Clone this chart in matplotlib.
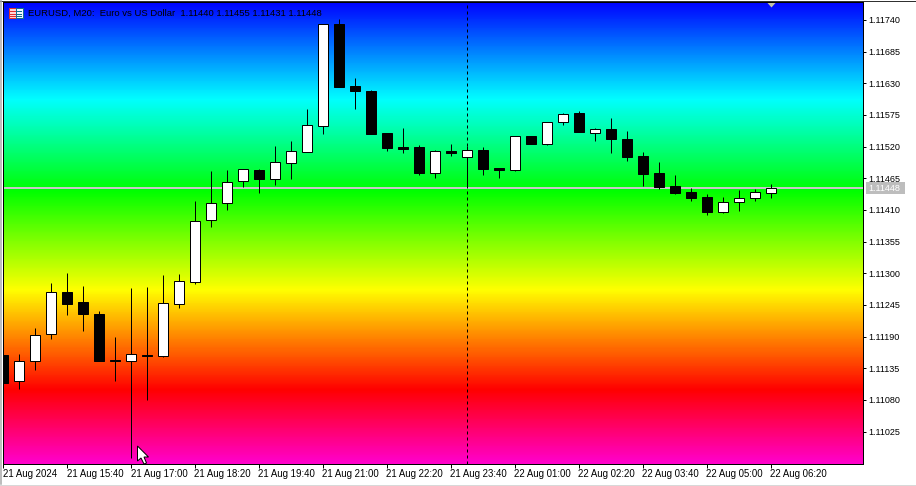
import matplotlib
matplotlib.use("Agg")
import matplotlib.pyplot as plt
import numpy as np
from matplotlib.colors import LinearSegmentedColormap
from matplotlib.patches import Polygon, Rectangle
from matplotlib.transforms import IdentityTransform, ScaledTranslation

# prices in 1e-5 units
opens = [111158,111112,111147,111194,111267,111250,111229,111149,111147,111158,111157,111246,111285,111392,111422,111460,111479,111463,111492,111510,111556,111733,111625,111617,111544,111519,111519,111475,111512,111502,111514,111483,111480,111538,111525,111562,111578,111544,111551,111533,111504,111474,111452,111441,111432,111406,111424,111431,111440]
highs = [111158,111160,111205,111283,111300,111278,111234,111189,111274,111276,111297,111299,111426,111478,111479,111481,111481,111521,111530,111585,111733,111742,111639,111618,111544,111552,111522,111514,111525,111521,111519,111483,111538,111538,111562,111578,111582,111552,111570,111547,111511,111493,111471,111448,111438,111432,111445,111446,111455]
lows = [111110,111099,111132,111186,111228,111200,111148,111112,110979,111080,111155,111240,111282,111381,111410,111450,111440,111454,111464,111510,111542,111624,111586,111542,111513,111509,111471,111466,111504,111450,111471,111466,111478,111525,111523,111558,111545,111530,111509,111495,111452,111446,111438,111426,111401,111405,111408,111426,111431]
closes = [111110,111147,111192,111267,111247,111230,111148,111148,111159,111157,111248,111286,111390,111422,111458,111481,111463,111493,111512,111557,111733,111624,111617,111542,111518,111516,111475,111512,111509,111514,111481,111480,111538,111525,111562,111576,111545,111550,111533,111502,111472,111450,111439,111431,111406,111424,111431,111441,111448]

last_price = 111448
cross_index = 29
title_text = "EURUSD, M20:  Euro vs US Dollar  1.11440 1.11455 1.11431 1.11448"
y_ticks = [111740,111685,111630,111575,111520,111465,111410,111355,111300,111245,111190,111135,111080,111025]
x_ticks = list(range(0, 49, 4))
x_labels = ["21 Aug 2024","21 Aug 15:40","21 Aug 17:00","21 Aug 18:20","21 Aug 19:40","21 Aug 21:00",
            "21 Aug 22:20","21 Aug 23:40","22 Aug 01:00","22 Aug 02:20","22 Aug 03:40","22 Aug 05:00","22 Aug 06:20"]

plt.rcParams['font.family'] = ['Liberation Sans', 'DejaVu Sans']
W, H = 916, 486
FS_X, FS_Y, FS_T = 6.95, 6.5, 6.8
PX = 0.72
fig = plt.figure(figsize=(W/100, H/100), dpi=100, facecolor='white')
L, R, T, B = 3.4, 863.4, 1.6, 463.6
ax = fig.add_axes([L/W, 1-B/H, (R-L)/W, (B-T)/H])
x_at = lambda x: (x-2.75)/16
y_at = lambda y: 111774.75 - 1.7375*y

# gradient background
cmap = LinearSegmentedColormap.from_list('g', [(0.0,(0,0,1)),(0.212,(0,1,1)),(0.41,(0,1,0)),(0.625,(1,1,0)),(0.84,(1,0,0)),(1.0,(1,0,0.8))], N=512)
ax.imshow(np.linspace(0,1,461)[:,None], cmap=cmap, aspect='auto', extent=(0,1,0,1), transform=ax.transAxes, zorder=0, interpolation='nearest')
ax.set_xlim(x_at(L), x_at(R))
ax.set_ylim(y_at(B), y_at(T))

ax.axhline(last_price, color='#c8c8c8', lw=2*PX, zorder=1)
ax.axvline(cross_index, color='black', lw=PX, ls=(0,(3,3)), zorder=1)

idx = np.arange(len(opens))
o, h, l, c = map(np.array, (opens, highs, lows, closes))
ax.vlines(idx, l, h, color='black', lw=PX, zorder=2)
cols = ['white' if cc > oo else 'black' for oo, cc in zip(o, c)]
ax.bar(idx, np.abs(c-o), bottom=np.minimum(o, c), width=0.625, color=cols, edgecolor='black', lw=PX, zorder=3)

for s in ax.spines.values():
    s.set_linewidth(PX)
ax.yaxis.tick_right()
ax.set_yticks(y_ticks)
ax.set_yticklabels([f"{v/100000:.5f}" for v in y_ticks], fontsize=FS_Y, color='black')
ax.set_xticks(x_ticks)
ax.set_xticklabels(x_labels, fontsize=FS_X, ha='left', color='black')
ax.tick_params(axis='y', length=2.5, width=PX, pad=1.4)
ax.tick_params(axis='x', length=3, width=PX, pad=0.6)
shift = ScaledTranslation(-0.8/100, 0, fig.dpi_scale_trans)
for lab in ax.get_xticklabels():
    lab.set_transform(lab.get_transform() + shift)

# price tag
px = IdentityTransform()
Yf = lambda y: H - y
fig.add_artist(Rectangle((866, Yf(194)), 39, 12, transform=px, fc='#bdbdbd', ec='none'))
fig.text(868.5/W, 1-188.5/H, f"{last_price/100000:.5f}", color='white', fontsize=FS_Y, va='center', ha='left')

# title, icon, marker, cursor
fig.text(28.5/W, 1-13.5/H, title_text, fontsize=FS_T, color='black', va='center', ha='left')
fig.add_artist(Rectangle((8.5, Yf(18)), 7, 10, transform=px, fc='#ffd8d8', ec='#e03030', lw=PX))
fig.add_artist(Rectangle((15.5, Yf(18)), 7, 10, transform=px, fc='#f0f8ff', ec='#107090', lw=PX))
for yy in (11, 13.5, 16):
    fig.add_artist(plt.Line2D([10, 15], [Yf(yy)]*2, transform=px, color='#e03030', lw=PX))
    fig.add_artist(plt.Line2D([16, 21], [Yf(yy)]*2, transform=px, color='#107090', lw=PX))
fig.add_artist(Polygon([(767.5, Yf(3)), (775.5, Yf(3)), (771.5, Yf(7.5))], transform=px, fc='#c0c0a8', ec='none'))
cursor = [(137.5,446),(137.5,461),(141,458),(144,464),(146.5,463),(144,457),(148.5,457)]
fig.add_artist(Polygon([(x, Yf(y)) for x, y in cursor], transform=px, fc='white', ec='black', lw=PX))

# window edges
fig.add_artist(plt.Line2D([W-0.5]*2, [Yf(484), H], transform=px, color='#202020', lw=PX))
fig.add_artist(plt.Line2D([0, W], [Yf(0.5)]*2, transform=px, color='#303030', lw=PX))
fig.add_artist(plt.Line2D([0, W], [Yf(484.5)]*2, transform=px, color='#d8d8d8', lw=PX))
fig.add_artist(plt.Line2D([0.5]*2, [Yf(484), H], transform=px, color='#a8a8a8', lw=PX*1.5))

fig.savefig('out.png', dpi=100, facecolor='white')
